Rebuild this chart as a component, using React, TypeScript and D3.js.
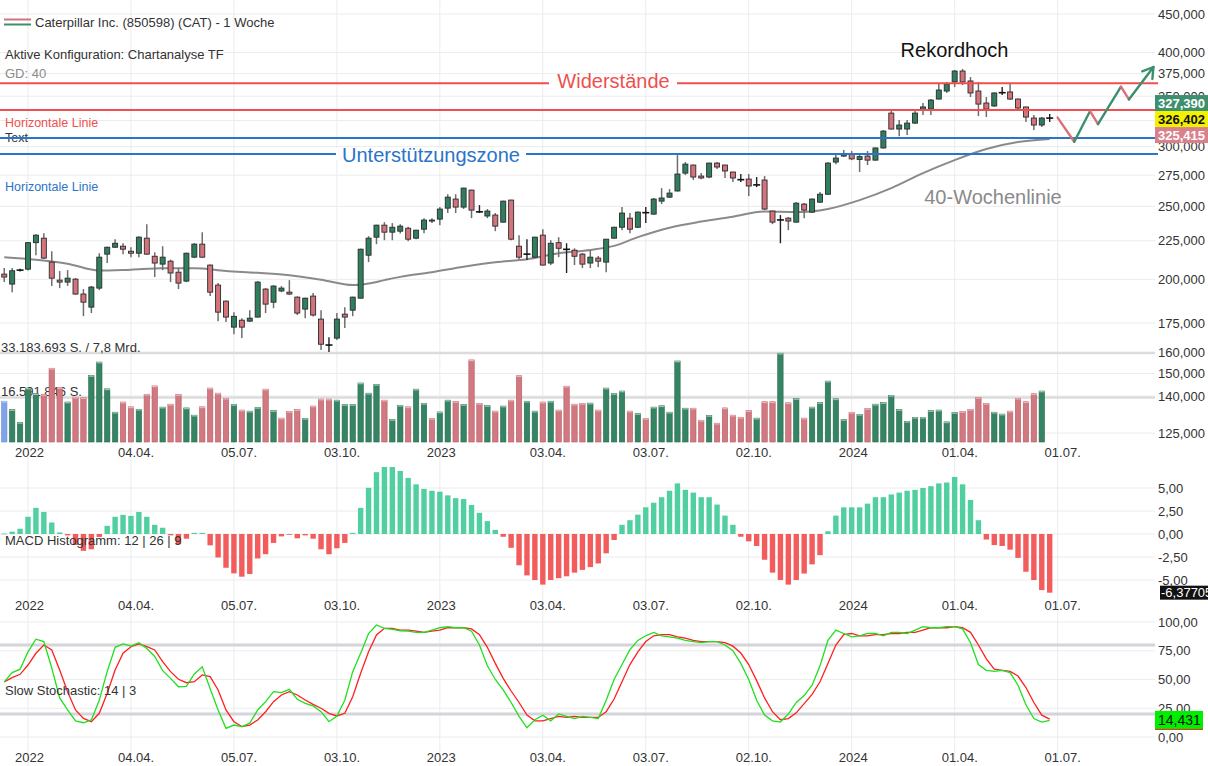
import React from 'react';
import * as d3 from 'd3';

const W = 1208;
const H = 766;
const FONT = "'Liberation Sans', Arial, Helvetica, sans-serif";

// ---------- DATA ----------
const opens = [203.2,197.1,205.5,206.3,223.7,226.8,210.8,199.5,198.3,200.1,
191.2,183.7,194.7,216.0,220.6,221.3,217.9,216.6,226.8,214.6,
209.5,211.4,204.4,198.9,214.0,222.7,208.9,196.5,187.1,172.8,
176.5,176.0,178.2,194.1,186.5,193.0,192.3,189.4,182.6,190.0,
177.1,163.5,167.1,179.8,182.0,188.8,215.3,227.5,236.0,231.0,
231.7,233.8,226.8,233.1,239.7,240.4,248.6,255.6,249.4,262.7,
246.0,242.7,243.4,238.2,254.8,221.3,216.2,214.0,228.9,210.2,
223.7,219.4,218.6,216.0,210.2,213.4,210.8,226.8,234.5,241.1,
234.5,244.9,244.1,254.0,257.1,262.0,276.7,283.6,274.2,273.4,
285.3,283.6,277.6,270.6,271.7,266.6,270.9,246.4,239.5,241.1,
238.2,251.7,245.6,253.2,259.4,286.2,291.5,293.0,288.5,291.5,
287.9,298.8,332.4,316.6,316.6,322.4,335.5,336.5,347.0,355.6,
365.6,378.0,366.7,355.6,342.8,339.7,353.2,354.6,347.0,338.7,
327.4,320.5,327.2];

const highs = [207.0,207.0,206.5,224.2,229.5,230.3,217.9,205.1,205.7,200.8,
194.1,196.0,216.6,221.0,226.1,223.3,220.6,228.2,236.7,217.2,
221.3,212.4,207.0,217.0,223.4,231.0,209.3,197.7,187.5,180.9,
177.6,182.0,198.9,194.7,196.5,195.9,199.5,189.8,189.0,191.8,
182.0,167.6,180.4,183.7,189.6,219.6,228.2,236.3,238.2,237.5,
236.7,234.9,232.8,241.1,241.1,249.4,259.4,259.4,264.6,263.0,
250.9,247.9,244.9,254.3,255.1,228.9,226.1,227.8,233.1,225.4,
227.5,223.3,219.9,216.8,218.6,214.8,226.3,234.8,249.4,244.9,
246.0,249.4,256.4,264.3,263.5,292.4,286.2,284.0,276.7,285.5,
286.2,283.9,277.8,275.9,275.9,273.4,274.2,246.8,243.4,241.9,
253.2,252.5,256.0,261.1,286.0,293.3,296.9,296.0,293.3,296.0,
299.2,315.6,335.5,325.4,325.4,335.5,342.8,347.0,363.3,365.6,
379.2,380.4,371.1,365.6,349.2,354.0,360.0,363.3,347.5,339.0,
330.4,328.4,331.4];

const lows = [198.3,192.3,204.8,205.5,215.3,212.8,195.9,194.7,196.0,190.8,
178.7,180.4,193.5,210.2,220.3,216.0,214.0,214.0,215.6,201.4,
205.7,198.3,194.1,198.3,213.4,213.6,190.0,176.0,175.5,169.1,
167.1,175.5,178.0,180.4,183.1,192.3,190.6,179.3,177.6,178.5,
161.1,160.1,166.1,172.3,178.7,188.6,210.8,222.7,225.4,225.4,
230.0,224.7,226.0,230.3,237.5,236.0,244.9,244.9,248.0,241.1,
244.9,241.1,231.7,237.9,225.4,212.7,212.1,213.7,208.6,208.9,
214.0,203.9,208.9,207.0,207.0,207.6,204.4,226.3,232.4,230.3,
234.0,237.5,243.7,251.7,256.4,261.5,275.0,270.9,271.5,272.4,
280.2,272.6,269.3,269.3,257.9,265.1,247.1,236.7,223.3,232.4,
237.9,241.1,245.0,252.6,259.0,284.4,290.6,287.9,277.6,283.6,
287.5,298.3,316.2,309.8,310.8,321.4,330.4,330.4,346.5,353.5,
360.0,362.2,349.2,329.4,328.4,339.0,351.3,345.9,335.5,323.4,
315.6,318.6,323.4];

const closes = [201.4,205.3,205.7,223.7,228.9,213.4,200.7,198.3,200.7,191.2,
186.5,195.3,214.0,220.6,223.3,219.3,216.6,227.5,216.0,210.2,
214.0,203.9,197.7,216.6,222.7,214.0,192.3,180.9,178.2,178.6,
172.8,177.6,198.3,185.4,195.9,194.7,191.2,180.4,188.8,179.3,
164.0,163.6,177.1,178.2,189.4,219.3,226.8,236.0,231.0,234.5,
235.3,226.1,232.4,239.7,239.0,247.9,257.1,249.4,264.3,247.1,
245.8,246.4,235.3,254.0,226.1,214.0,216.0,227.5,208.9,223.3,
219.9,219.2,214.6,209.5,214.0,211.4,226.1,234.5,244.9,233.1,
245.6,245.2,255.6,256.4,260.3,275.9,284.4,273.4,272.6,285.3,
281.9,278.5,272.6,271.2,266.0,266.9,247.9,238.2,239.8,239.0,
252.4,247.1,255.6,259.4,285.3,289.7,293.3,289.0,291.0,287.9,
298.8,314.6,316.6,320.5,322.4,332.4,338.7,345.9,356.7,363.3,
378.0,365.6,353.5,341.7,336.5,353.5,353.8,347.0,337.6,328.4,
320.5,327.4,327.39];

// weekly volume, millions of shares
const volumes = [15.2,12.1,7.3,20.1,18.0,17.7,27.5,20.3,14.9,16.7,
16.5,24.8,29.8,19.8,11.1,14.9,13.1,12.2,17.8,20.9,
13.0,14.1,17.7,12.7,10.0,13.1,20.1,18.2,16.3,14.0,
11.9,11.5,12.9,19.7,11.7,8.9,11.4,12.1,8.8,13.4,
16.0,16.0,15.6,14.0,14.0,22.0,18.2,21.5,15.6,8.4,
13.7,13.1,19.7,14.4,8.8,11.2,15.6,15.1,14.0,30.6,
14.4,13.6,11.5,13.4,15.6,24.7,15.2,11.5,14.9,15.2,
11.9,20.8,14.1,14.4,14.5,11.9,20.1,18.1,19.0,11.5,
10.6,8.8,13.0,13.5,11.1,30.2,12.6,12.6,8.1,9.9,
7.0,12.7,10.0,9.2,11.7,8.9,15.0,15.0,33.1,14.6,
16.2,8.9,13.0,14.7,22.7,16.1,8.4,11.1,10.3,12.5,
14.1,14.7,17.4,12.1,7.7,9.2,9.2,11.7,11.9,7.5,
11.0,11.4,12.2,16.6,14.4,11.1,10.4,11.5,16.3,15.0,
18.0,19.0,0];

const macdHist = [0.05,0.25,0.57,1.87,2.84,2.40,1.25,0.17,-0.15,-1.19,
-1.83,-1.66,-0.32,0.89,1.87,2.08,1.97,2.40,1.87,1.00,
0.68,-0.15,-1.12,-0.51,0.12,0.12,-1.23,-2.55,-3.67,-4.28,
-4.64,-4.35,-2.66,-2.20,-0.97,-0.26,-0.03,-0.47,-0.15,-0.51,
-1.66,-2.20,-1.55,-0.97,0.12,2.84,5.02,6.72,7.28,7.28,
6.85,6.10,5.40,4.90,4.70,4.60,4.20,3.90,3.80,3.15,
2.30,1.40,0.45,-0.30,-1.50,-3.40,-4.50,-5.00,-5.50,-5.00,
-4.80,-4.60,-4.20,-3.90,-3.60,-3.20,-2.10,-0.65,1.00,1.50,
2.10,2.90,3.40,4.00,4.70,5.50,4.80,4.50,4.00,4.00,
3.20,2.00,1.00,-0.30,-0.80,-1.30,-2.80,-4.20,-5.00,-5.50,
-5.00,-4.30,-3.30,-2.30,0.30,2.00,2.90,2.90,2.90,3.30,
4.00,4.00,4.30,4.50,4.70,4.80,5.00,5.20,5.50,5.60,
6.20,5.40,3.70,1.50,-0.60,-1.20,-1.30,-1.70,-2.60,-4.10,
-5.00,-6.10,-6.37705];

const stochK = [48,56,59,74,85,83,60,34,23.5,14,
12.4,14.8,32,57,78,81,79,82,77,70,
57.7,51,43.7,44,54.8,61,42,23.5,7.5,10.4,
9,12,23.5,30.7,39.4,38.6,41.4,32.8,29.3,27,
22,13.3,18.3,32,56.8,72.8,90,97.4,94.5,93.6,
92.4,92,91,91,93,95,96,95,95,92,
80,62,50,41,30,18,8,15,19,14,
20,18,16,18,17,16,32,50,63,76,
84,88,91,88,87,86,84,83,82,83,
83,80,75,64,50,32,19,14,13,20,
30,36,45,62,84,93,90,87,88,90,
90,88,91,91,90,93,96,95,95,96,
96,94,82,63,58,57,58,56,45,28,
16,13,14.431];

const stochD = [48,51.6,54.5,62.6,72.8,80,75.7,58.3,39.4,23.5,
16.2,13.3,20.6,38,58.3,72.8,78.5,80.9,78.5,75.7,
65.5,56.8,50.2,47.2,48.1,54,52.5,40.9,23.5,13.3,
9,10.4,14.8,22,30.7,36.5,39.4,36.5,32.2,28.4,
25,20.6,18.3,20.6,35,55.4,74.2,88.7,94.5,94.5,
93,93,92,91,92,93,95,95,95,94,
89,78,64,51,40,30,19,14,14,16,
18,17,18,17,17,17,22,33,48,63,
74,83,88,89,89,87,86,84,83,83,
83,82,79,73,63,49,34,22,15,16,
21,29,37,48,64,80,89,90,88,88,
89,89,90,90,91,91,93,95,95,95,
96,95,91,80,68,59,58,57,53,43,
30,19,15.5];

// 40-week moving average, read at selected weeks
const maIdx = [0,4,8,12,16,20,24,28,32,36,40,44,46,48,50,54,58,62,66,70,74,77,80,84,88,92,96,100,104,108,112,116,120,124,128,132];
const maVal = [214.0,212.4,209.8,205.4,206.0,206.8,206.8,205.2,204.0,202.5,199.8,196.5,197.4,199.5,201.5,204.4,207.8,210.7,212.7,216.6,218.8,221.5,227.5,234.2,238.6,242.2,246.0,245.6,248.0,254.8,264.3,276.7,287.9,297.8,304.2,307.1];

const priceTicks = [450,400,375,350,325,300,275,250,225,200,175,160,150,140,125];
const macdTicks = [5,2.5,0,-2.5,-5];
const stochTicks = [100,75,50,25,0];
const stochBands = [80,20];
const dateIdx = [3,16,29,42,55,68,81,94,107,120,133];
const dateLabels = ['2022','04.04.','05.07.','03.10.','2023','03.04.','03.07.','02.10.','2024','01.04.','01.07.'];

const resistanceLevels = [364.2, 335.5];
const supportLevels = [308.0, 293.3];

const projIdx = [133.0, 135.1, 137.1, 138.1, 141.0, 142.0, 145.1];
const projPrice = [327.9, 304.5, 334.5, 321.4, 360.3, 346.6, 382.7];

const lastPrice = 327.39;
const midPrice = 326.402;
const lowPrice = 325.415;
const lastMacd = -6.37705;
const lastStoch = 14.431;
const volMax = 33.183693;
const volAvg = 16.591846;

// ---------- COLORS ----------
const GREEN = '#2f7e5d';
const RED = '#d4737c';
const VGREEN = '#358463';
const VRED = '#d27880';
const GRID = '#ececec';
const RLINE = '#ef4f4f';
const BLINE = '#2a74c9';

const loc = d3.formatLocale({ decimal: ',', thousands: '.', grouping: [3], currency: ['', ''], minus: '-' });
const f3 = loc.format('.3f');
const f2 = loc.format('.2f');
const f5 = loc.format('.5f');
const fInt = loc.format(',d');

export default function App() {
  const x = d3.scaleLinear().domain([0, 132]).range([4.24, 1049.7]);
  const yP = d3.scaleLog().domain([175, 450]).range([323, 14]);
  const yV = d3.scaleLinear().domain([0, volMax]).range([442, 353]);
  const yM = d3.scaleLinear().domain([-5, 5]).range([580, 488]);
  const yS = d3.scaleLinear().domain([0, 100]).range([737, 622]);
  const RIGHT = 1155;

  const maLine = d3.line<number>()
    .x((_, i) => x(maIdx[i]))
    .y((v) => yP(v))
    .curve(d3.curveMonotoneX)(maVal) || '';

  const kLine = d3.line<number>().x((_, i) => x(i)).y((v) => yS(v))(stochK) || '';
  const dLine = d3.line<number>().x((_, i) => x(i)).y((v) => yS(v))(stochD) || '';

  // projection segments
  const projSegs = projIdx.slice(1).map((_, k) => {
    const a = [x(projIdx[k]), yP(projPrice[k])];
    const b = [x(projIdx[k + 1]), yP(projPrice[k + 1])];
    const up = projPrice[k + 1] > projPrice[k];
    return { a, b, up };
  });
  const n = projIdx.length;
  const tip = [x(projIdx[n - 1]), yP(projPrice[n - 1])];
  const prev = [x(projIdx[n - 2]), yP(projPrice[n - 2])];
  const ang = Math.atan2(prev[1] - tip[1], prev[0] - tip[0]);
  const arm = 12;
  const spread = (32 * Math.PI) / 180;
  const arrow1 = [tip[0] + arm * Math.cos(ang + spread), tip[1] + arm * Math.sin(ang + spread)];
  const arrow2 = [tip[0] + arm * Math.cos(ang - spread), tip[1] + arm * Math.sin(ang - spread)];

  const cw = 5;
  const vw = 5.4;
  const mw = 5.4;

  const labelRows = [457, 610, 762];

  const yMid = yP(midPrice);

  return (
    <svg
      width={W}
      height={H}
      viewBox={`0 0 ${W} ${H}`}
      style={{ position: 'absolute', left: 0, top: 0, background: '#fff' }}
      fontFamily={FONT}
    >
      <rect x={0} y={0} width={W} height={H} fill="#fff" />

      {/* vertical grid */}
      {dateIdx.map((d, i) => (
        <line key={'vg' + i} x1={x(d)} x2={x(d)} y1={0} y2={H} stroke={GRID} strokeWidth={1} />
      ))}

      {/* horizontal price grid */}
      {priceTicks.map((t) => (
        <line key={'pg' + t} x1={0} x2={RIGHT} y1={yP(t)} y2={yP(t)} stroke={GRID} strokeWidth={1} />
      ))}
      {macdTicks.map((t) => (
        <line key={'mg' + t} x1={0} x2={RIGHT} y1={yM(t)} y2={yM(t)} stroke={GRID} strokeWidth={1} />
      ))}
      {stochTicks.map((t) => (
        <line key={'sg' + t} x1={0} x2={RIGHT} y1={yS(t)} y2={yS(t)} stroke={GRID} strokeWidth={1} />
      ))}

      {/* separator and average volume lines */}
      <line x1={0} x2={RIGHT} y1={yV(volMax)} y2={yV(volMax)} stroke="#dcdcdc" strokeWidth={2.5} />
      <line x1={0} x2={RIGHT} y1={yV(volAvg)} y2={yV(volAvg)} stroke="#dcdcdc" strokeWidth={2.5} />
      {stochBands.map((b) => (
        <line key={'sb' + b} x1={0} x2={RIGHT} y1={yS(b)} y2={yS(b)} stroke="#d4d4da" strokeWidth={3} />
      ))}

      {/* volume texts */}
      <text x={1} y={352} fontSize={13} fill="#333">{fInt(Math.round(volMax * 1e6))} S. / 7,8 Mrd.</text>
      <text x={1} y={396} fontSize={13} fill="#333">{fInt(Math.round(volAvg * 1e6))} S.</text>

      {/* volume bars */}
      {volumes.map((v, i) => {
        if (!v) return null;
        const up = i === 0 ? null : closes[i] >= closes[i - 1];
        const fill = up === null ? '#7fa5e8' : up ? VGREEN : VRED;
        const stroke = up === null ? '#6a8fd0' : up ? '#2a6a4f' : '#b35c64';
        const cap = up === null ? '#b5ccf2' : up ? '#9cc5b1' : '#ecb3b8';
        const top = yV(v);
        return (
          <g key={'v' + i}>
            <rect x={x(i) - vw / 2} y={top} width={vw} height={yV(0) - top} fill={fill} stroke={stroke} strokeWidth={0.6} />
            <rect x={x(i) - vw / 2} y={top} width={vw} height={1.3} fill={cap} />
          </g>
        );
      })}

      {/* moving average */}
      <path d={maLine} fill="none" stroke="#8a8a8a" strokeWidth={2} />

      {/* candles */}
      {opens.map((o, i) => {
        const c = closes[i];
        const yo = yP(o);
        const yc = yP(c);
        const yh = yP(highs[i]);
        const yl = yP(lows[i]);
        const cx = x(i);
        const doji = Math.abs(yo - yc) < 0.8;
        if (doji) {
          return (
            <g key={'c' + i}>
              <line x1={cx} x2={cx} y1={yh} y2={yl} stroke="#222" strokeWidth={1.4} />
              <line x1={cx - 3.5} x2={cx + 3.5} y1={yc} y2={yc} stroke="#111" strokeWidth={1.6} />
            </g>
          );
        }
        const up = c > o;
        const top = Math.min(yo, yc);
        const h = Math.max(1, Math.abs(yo - yc));
        return (
          <g key={'c' + i}>
            <line x1={cx} x2={cx} y1={yh} y2={yl} stroke="#6e6e6e" strokeWidth={1.5} />
            <rect x={cx - cw / 2} y={top} width={cw} height={h} fill={up ? GREEN : RED} stroke="#2b2b2b" strokeWidth={0.9} />
          </g>
        );
      })}

      {/* top-left labels */}
      <line x1={4} x2={31} y1={19.5} y2={19.5} stroke="#d4737c" strokeWidth={2} />
      <line x1={4} x2={31} y1={24.5} y2={24.5} stroke="#3d8f6e" strokeWidth={2} />
      <text x={35} y={27} fontSize={13} fill="#333">Caterpillar Inc. (850598) (CAT) - 1 Woche</text>
      <text x={5} y={58.5} fontSize={13} fill="#333">Aktive Konfiguration: Chartanalyse TF</text>
      <text x={5} y={78} fontSize={13} fill="#8a8a8a">GD: 40</text>
      <text x={5} y={126.5} fontSize={12.5} fill={RLINE}>Horizontale Linie</text>
      <text x={5} y={142} fontSize={12.5} fill="#333">Text</text>
      <text x={5} y={190.5} fontSize={12.5} fill={BLINE}>Horizontale Linie</text>

      {/* horizontal lines */}
      {resistanceLevels.map((p) => (
        <line key={'r' + p} x1={0} x2={RIGHT + 3} y1={yP(p)} y2={yP(p)} stroke={RLINE} strokeWidth={2} />
      ))}
      {supportLevels.map((p) => (
        <line key={'s' + p} x1={0} x2={RIGHT + 3} y1={yP(p)} y2={yP(p)} stroke={BLINE} strokeWidth={2} />
      ))}

      {/* annotation texts */}
      <rect x={549} y={yP(resistanceLevels[0]) - 6} width={128} height={12} fill="#fff" />
      <text x={613.5} y={88} fontSize={20} fill={RLINE} textAnchor="middle">Widerstände</text>
      <rect x={336} y={yP(supportLevels[1]) - 6} width={190} height={12} fill="#fff" />
      <text x={431} y={162} fontSize={20} fill={BLINE} textAnchor="middle">Unterstützungszone</text>
      <text x={954.5} y={57} fontSize={20} fill="#111" textAnchor="middle">Rekordhoch</text>
      <text x={993} y={204} fontSize={20} fill="#8a8a8a" textAnchor="middle">40-Wochenlinie</text>

      {/* projection */}
      {projSegs.map((s, k) => (
        <line key={'pj' + k} x1={s.a[0]} y1={s.a[1]} x2={s.b[0]} y2={s.b[1]}
          stroke={s.up ? '#3a8f6c' : '#dc7078'} strokeWidth={2.4} strokeLinecap="round" />
      ))}
      <polyline points={`${arrow1[0]},${arrow1[1]} ${tip[0]},${tip[1]} ${arrow2[0]},${arrow2[1]}`}
        fill="none" stroke="#3a8f6c" strokeWidth={2.4} strokeLinecap="round" strokeLinejoin="round" />

      {/* MACD histogram */}
      {macdHist.map((v, i) => {
        const y0 = yM(0);
        const y1 = yM(v);
        return (
          <rect key={'m' + i} x={x(i) - mw / 2} y={Math.min(y0, y1)} width={mw}
            height={Math.max(0.8, Math.abs(y1 - y0))} fill={v >= 0 ? '#52cfa1' : '#f25c5c'} />
        );
      })}
      <text x={5} y={545} fontSize={13} fill="#333">MACD Histogramm: 12 | 26 | 9</text>

      {/* Stochastic */}
      <path d={dLine} fill="none" stroke="#ff1f1f" strokeWidth={1.3} />
      <path d={kLine} fill="none" stroke="#1fe01f" strokeWidth={1.3} />
      <text x={5} y={694.5} fontSize={13} fill="#333">Slow Stochastic: 14 | 3</text>

      {/* right axis labels */}
      {priceTicks.map((t) => (
        <text key={'pl' + t} x={1158} y={yP(t) + 4.5} fontSize={13} fill="#333">{f3(t)}</text>
      ))}
      {macdTicks.map((t) => (
        <text key={'ml' + t} x={1158} y={yM(t) + 4.5} fontSize={13} fill="#333">{f2(t)}</text>
      ))}
      {stochTicks.map((t) => (
        <text key={'sl' + t} x={1158} y={yS(t) + 4.5} fontSize={13} fill="#333">{f2(t)}</text>
      ))}

      {/* price boxes */}
      <rect x={1155} y={yMid - 24} width={53} height={16} fill="#3d8f6e" />
      <text x={1158} y={yMid - 11.5} fontSize={13} fontWeight="bold" fill="#fff">{f3(lastPrice)}</text>
      <rect x={1155} y={yMid - 8} width={53} height={16} fill="#f2f200" />
      <text x={1158} y={yMid + 4.5} fontSize={13} fontWeight="bold" fill="#111">{f3(midPrice)}</text>
      <rect x={1155} y={yMid + 8} width={53} height={16} fill="#d9818a" />
      <text x={1158} y={yMid + 20.5} fontSize={13} fontWeight="bold" fill="#fff">{f3(lowPrice)}</text>

      {/* MACD box */}
      <rect x={1160} y={yM(lastMacd) - 7} width={48} height={14} fill="#111" />
      <text x={1161} y={yM(lastMacd) + 4.5} fontSize={13} fill="#fff">{f5(lastMacd)}</text>

      {/* Stoch box */}
      <rect x={1155} y={yS(lastStoch) - 9.5} width={48} height={19} fill="#00ee00" />
      <line x1={1155} x2={1203} y1={yS(lastStoch) + 9} y2={yS(lastStoch) + 9} stroke="#ff2020" strokeWidth={1} />
      <text x={1158} y={yS(lastStoch) + 5} fontSize={14} fill="#111">{f3(lastStoch)}</text>

      {/* x-axis labels */}
      {labelRows.map((ry) =>
        dateIdx.map((d, i) => (
          <text key={'xl' + ry + '-' + i} x={x(d) - 13} y={ry} fontSize={13} fill="#333">{dateLabels[i]}</text>
        ))
      )}
    </svg>
  );
}
